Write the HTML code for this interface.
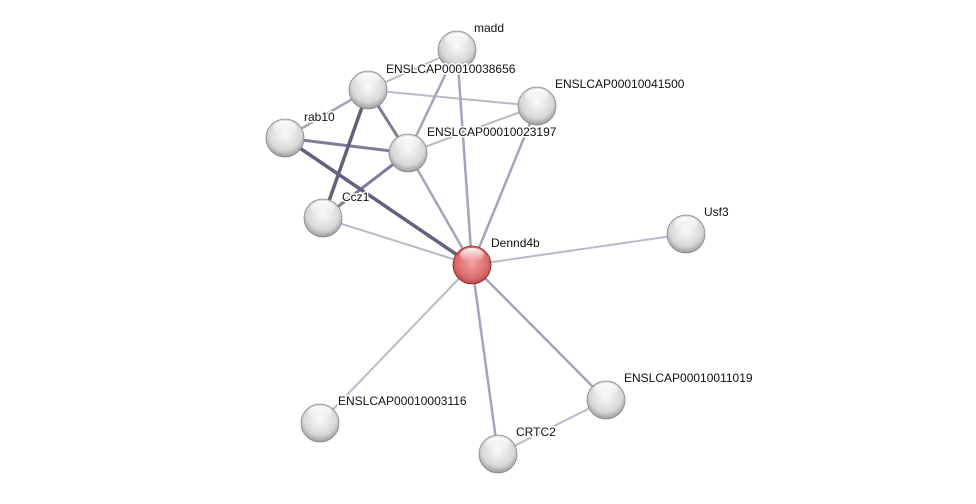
<!DOCTYPE html>
<html><head><style>
body{margin:0;background:#fff;}
svg text{font-family:"Liberation Sans",sans-serif;font-size:12px;fill:#111;paint-order:stroke;stroke:#fff;stroke-width:3px;stroke-linejoin:round;}
</style></head><body>
<svg width="976" height="499" viewBox="0 0 976 499" xmlns="http://www.w3.org/2000/svg">
<defs>
<radialGradient id="g" cx="50%" cy="40%" r="60%">
<stop offset="0" stop-color="#fafafa"/><stop offset="0.7" stop-color="#d8d8d8"/><stop offset="1" stop-color="#9a9a9a"/>
</radialGradient>
<radialGradient id="r" cx="50%" cy="45%" r="60%">
<stop offset="0" stop-color="#f3a0a0"/><stop offset="0.7" stop-color="#d96a6a"/><stop offset="1" stop-color="#a03838"/>
</radialGradient>
<linearGradient id="h" x1="0" y1="0" x2="0" y2="1">
<stop offset="0" stop-color="#fff" stop-opacity="0.95"/><stop offset="1" stop-color="#fff" stop-opacity="0"/>
</linearGradient>
<g id="hl"><ellipse cx="0" cy="-10" rx="12" ry="7" fill="url(#h)"/></g>
</defs>
<g stroke-linecap="round">
<g stroke="#b9b9cc" stroke-width="2">
<line x1="457" y1="50" x2="368" y2="90"/>
<line x1="368" y1="90" x2="537" y2="106"/>
<line x1="537" y1="106" x2="408" y2="153"/>
<line x1="323" y1="218" x2="472" y2="265"/>
<line x1="472" y1="265" x2="686" y2="234"/>
<line x1="472" y1="265" x2="320" y2="423"/>
<line x1="498" y1="454" x2="606" y2="400"/>
</g>
<g stroke="#a3a4bc" stroke-width="2.5">
<line x1="457" y1="50" x2="408" y2="153"/>
<line x1="457" y1="50" x2="472" y2="265"/>
<line x1="537" y1="106" x2="472" y2="265"/>
<line x1="472" y1="265" x2="606" y2="400"/>
<line x1="472" y1="265" x2="498" y2="454"/>
<line x1="408" y1="153" x2="472" y2="265"/>
<line x1="368" y1="90" x2="285" y2="138"/>
</g>
<g stroke="#7c7e98" stroke-width="3">
<line x1="285" y1="138" x2="408" y2="153"/>
<line x1="408" y1="153" x2="323" y2="218"/>
<line x1="368" y1="90" x2="408" y2="153"/>
</g>
<g stroke="#61637e" stroke-width="3.5">
<line x1="368" y1="90" x2="323" y2="218"/>
<line x1="285" y1="138" x2="472" y2="265"/>
</g>
</g>
<g stroke="#888" stroke-width="0.8">
<circle cx="457" cy="50" r="19" fill="url(#g)"/>
<circle cx="368" cy="90" r="19" fill="url(#g)"/>
<circle cx="537" cy="106" r="19" fill="url(#g)"/>
<circle cx="285" cy="138" r="19" fill="url(#g)"/>
<circle cx="408" cy="153" r="19" fill="url(#g)"/>
<circle cx="323" cy="218" r="19" fill="url(#g)"/>
<circle cx="686" cy="234" r="19" fill="url(#g)"/>
<circle cx="606" cy="400" r="19" fill="url(#g)"/>
<circle cx="320" cy="423" r="19" fill="url(#g)"/>
<circle cx="498" cy="454" r="19" fill="url(#g)"/>
<circle cx="472" cy="265" r="19" fill="url(#r)" stroke="#8a2a2a"/>
</g>
<g>
<use href="#hl" x="457" y="50"/><use href="#hl" x="368" y="90"/><use href="#hl" x="537" y="106"/>
<use href="#hl" x="285" y="138"/><use href="#hl" x="408" y="153"/><use href="#hl" x="323" y="218"/>
<use href="#hl" x="686" y="234"/><use href="#hl" x="606" y="400"/><use href="#hl" x="320" y="423"/>
<use href="#hl" x="498" y="454"/><use href="#hl" x="472" y="265"/>
</g>
<text x="474" y="32">madd</text>
<text x="386" y="73">ENSLCAP00010038656</text>
<text x="555" y="88">ENSLCAP00010041500</text>
<text x="304" y="121">rab10</text>
<text x="427" y="136">ENSLCAP00010023197</text>
<text x="342" y="201">Ccz1</text>
<text x="704" y="216">Usf3</text>
<text x="491" y="247">Dennd4b</text>
<text x="624" y="382">ENSLCAP00010011019</text>
<text x="338" y="405">ENSLCAP00010003116</text>
<text x="516" y="436">CRTC2</text>
</svg>
</body></html>
